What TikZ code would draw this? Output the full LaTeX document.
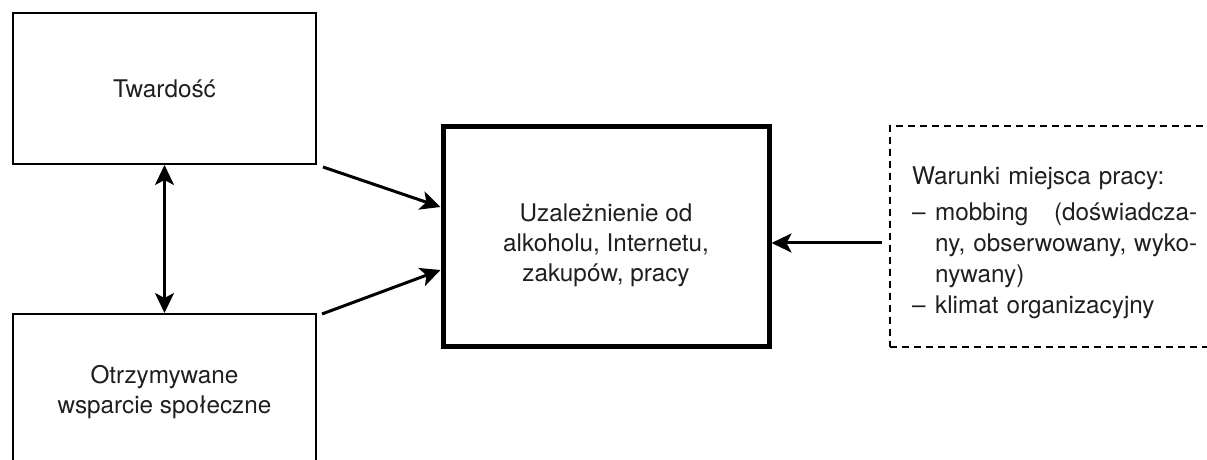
\documentclass[tikz,border=0pt]{standalone}
\usepackage{fontspec}
\setmainfont{TeX Gyre Heros}
\usetikzlibrary{arrows.meta,calc}
\begin{document}
\begin{tikzpicture}[x=1pt,y=1pt,
  txt/.style={font=\fontsize{24.3}{30}\selectfont, text=black!88},
  thinbox/.style={draw, line width=2pt, rectangle, inner sep=0pt, txt, align=center},
  bigbox/.style={draw, line width=5pt, rectangle, inner sep=0pt},
  dbox/.style={draw, line width=2.5pt, dash pattern=on 7pt off 5pt, rectangle, inner sep=0pt},
  arr/.style={line width=3pt, -{Stealth[length=20pt,width=19pt,inset=5pt]}},
  darr/.style={line width=2.5pt, {Stealth[length=20pt,width=19pt,inset=5pt]}-{Stealth[length=20pt,width=19pt,inset=5pt]}}
]
\useasboundingbox (0,0) rectangle (1207,460);
\clip (0,0) rectangle (1207,460);

\node[thinbox, minimum width=303pt, minimum height=151pt] (tw) at (164.5,371.5) {Twardość};
\node[thinbox, minimum width=303pt, minimum height=156pt] (ow) at (164.5,68) {Otrzymywane\\wsparcie społeczne};

\node[bigbox, minimum width=326pt, minimum height=220pt] (cb) at (606,223) {};
\node[txt, align=center] (cbt) at ([yshift=-8pt]cb.center) {Uzależnienie od\\alkoholu, Internetu,\\zakupów, pracy};

\node[dbox, minimum width=340pt, minimum height=221pt] (wb) at (1060,223.5) {};
\node[txt, font=\fontsize{24.3}{31}\selectfont, text width=290pt, align=left, anchor=base west, inner sep=0pt] (wt) at (912,275) {%
Warunki miejsca pracy:\\[5pt]
\makebox[23pt][l]{–}\hbox to 262pt{mobbing\hfill(doświadcza-}\\
\hspace*{23pt}\hbox to 262pt{ny,\hfill obserwowany,\hfill wyko-}\\
\hspace*{23pt}nywany)\\
\makebox[23pt][l]{–}klimat organizacyjny};

\draw[arr] ([shift={(6pt,-2pt)}]tw.south east) -- ([yshift=30pt]cb.west);
\draw[arr] ([shift={(5pt,-1pt)}]ow.north east) -- ([yshift=-33pt]cb.west);
\draw[darr] (tw.south) -- (ow.north);
\draw[arr] ([shift={(-7pt,-6.5pt)}]wb.west) -- ([yshift=-6pt]cb.east);
\end{tikzpicture}
\end{document}
